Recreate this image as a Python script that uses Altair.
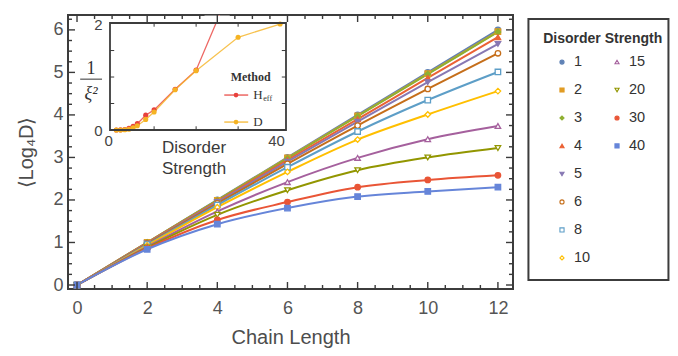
import altair as alt
import pandas as pd

# ---------------- data ----------------
chain_length = [0, 2, 4, 6, 8, 10, 12]
disorder_strengths = ["1", "2", "3", "4", "5", "6", "8", "10", "15", "20", "30", "40"]

d1 = [0, 1.00, 2.00, 3.00, 4.00, 5.00, 6.00]
d2 = [0, 1.00, 1.99, 2.99, 3.98, 4.97, 5.96]
d3 = [0, 1.00, 1.99, 2.98, 3.97, 4.96, 5.95]
d4 = [0, 0.99, 1.97, 2.94, 3.90, 4.87, 5.83]
d5 = [0, 0.98, 1.95, 2.90, 3.84, 4.77, 5.67]
d6 = [0, 0.97, 1.92, 2.85, 3.75, 4.61, 5.45]
d8 = [0, 0.95, 1.88, 2.77, 3.61, 4.35, 5.01]
d10 = [0, 0.93, 1.83, 2.66, 3.42, 4.01, 4.56]
d15 = [0, 0.90, 1.73, 2.42, 2.99, 3.43, 3.74]
d20 = [0, 0.88, 1.65, 2.23, 2.70, 3.00, 3.22]
d30 = [0, 0.86, 1.53, 1.95, 2.30, 2.47, 2.58]
d40 = [0, 0.84, 1.43, 1.81, 2.08, 2.20, 2.30]
series_values = [d1, d2, d3, d4, d5, d6, d8, d10, d15, d20, d30, d40]

series_colors = ["#5E81B5", "#E19C24", "#8FB032", "#EB6235", "#8778B3", "#C56E1A",
                 "#5D9EC7", "#FFBF00", "#A5609D", "#929600", "#E95536", "#6685D9"]
series_shapes = ["circle", "square", "diamond", "triangle-up", "triangle-down",
                 "circle", "square", "diamond", "triangle-up", "triangle-down",
                 "circle", "square"]
series_filled = [True, True, True, True, True, False, False, False, False, False, True, True]

inset_strength = [1, 2, 3, 4, 5, 6, 8, 10, 15, 20, 30, 40]
inset_heff = [0.0, 0.003, 0.01, 0.03, 0.07, 0.12, 0.28, 0.38, 0.77, 1.13, 3.0, 4.5]
inset_d = [0.0, 0.001, 0.005, 0.015, 0.04, 0.08, 0.20, 0.34, 0.76, 1.12, 1.75, 2.0]
inset_methods = ["Heff", "D"]
inset_colors = ["#E8413C", "#F5B323"]

x_major_ticks = [0, 2, 4, 6, 8, 10, 12]
y_major_ticks = [0, 1, 2, 3, 4, 5, 6]

# ---------------- layout constants ----------------
W, H = 445, 274
X_DOM = [-0.257, 12.43]
Y_DOM = [-0.094, 6.35]
ppx = W / (X_DOM[1] - X_DOM[0])
ppy = H / (Y_DOM[1] - Y_DOM[0])

IX_DOM = [-0.5, 41.4]
IY_DOM = [0, 2.02]
IX_RANGE = [42, 218]
IY_RANGE = [115, 8]

FONT = "Liberation Sans"
SERIF = "Liberation Serif"
FRAME = "#3c3c3c"
TICKC = "#3a3a3a"

# ---------------- main data frame ----------------
rows = []
for s, vals, col, shp, fl in zip(disorder_strengths, series_values, series_colors,
                                 series_shapes, series_filled):
    for L, v in zip(chain_length, vals):
        rows.append({"s": s, "L": L, "v": v, "shape": shp,
                     "fill": col if fl else "white"})
main_df = pd.DataFrame(rows)

# frame ticks (inward, Mathematica-like)
x_minor = [i * 0.5 for i in range(0, 25) if (i * 0.5) not in x_major_ticks]
y_minor = [i * 0.25 for i in range(0, 26) if (i * 0.25) not in y_major_ticks]
vt_rows, ht_rows = [], []
for xv in x_major_ticks + x_minor:
    ln = 7 if xv in x_major_ticks else 4
    vt_rows.append({"tx": xv, "ty": Y_DOM[0], "ty2": Y_DOM[0] + ln / ppy})
    vt_rows.append({"tx": xv, "ty": Y_DOM[1], "ty2": Y_DOM[1] - ln / ppy})
for yv in y_major_ticks + y_minor:
    ln = 7 if yv in y_major_ticks else 4
    ht_rows.append({"ty": yv, "tx": X_DOM[0], "tx2": X_DOM[0] + ln / ppx})
    ht_rows.append({"ty": yv, "tx": X_DOM[1], "tx2": X_DOM[1] - ln / ppx})
vt_df = pd.DataFrame(vt_rows)
ht_df = pd.DataFrame(ht_rows)

main_x_axis = alt.Axis(values=x_major_ticks, title="Chain Length", ticks=False, tickSize=0,
                       domain=False, grid=False, labelFontSize=18, titleFontSize=20,
                       labelPadding=10, titlePadding=10, labelColor="#555", titleColor="#4d4d4d",
                       titleFontWeight="normal", labelFont=FONT, titleFont=FONT, orient="bottom")
main_y_axis = alt.Axis(values=y_major_ticks, title="⟨Log₄D⟩", ticks=False, tickSize=0,
                       domain=False, grid=False, labelFontSize=18, titleFontSize=20,
                       labelPadding=5, titlePadding=16, labelColor="#555", titleColor="#4d4d4d",
                       titleFontWeight="normal", labelFont=FONT, titleFont=FONT, orient="left")
mx_scale = alt.Scale(domain=X_DOM, nice=False, zero=False)
my_scale = alt.Scale(domain=Y_DOM, nice=False, zero=False)
color_enc = alt.Color("s:N", scale=alt.Scale(domain=disorder_strengths, range=series_colors),
                      legend=None)


def mx(field):
    return alt.X(field, scale=mx_scale, axis=main_x_axis)


def my(field):
    return alt.Y(field, scale=my_scale, axis=main_y_axis)


lines = alt.Chart(main_df).mark_line(interpolate="monotone", strokeWidth=2).encode(
    x=mx("L:Q"), y=my("v:Q"), color=color_enc)
points = alt.Chart(main_df).mark_point(size=30, strokeWidth=1.3, opacity=1).encode(
    x=mx("L:Q"), y=my("v:Q"), color=color_enc,
    shape=alt.Shape("shape:N", scale=None),
    fill=alt.Fill("fill:N", scale=None),
)
vticks = alt.Chart(vt_df).mark_rule(color=TICKC, strokeWidth=1.4).encode(
    x=mx("tx:Q"), y=my("ty:Q"), y2="ty2:Q")
hticks = alt.Chart(ht_df).mark_rule(color=TICKC, strokeWidth=1.4).encode(
    y=my("ty:Q"), x=mx("tx:Q"), x2="tx2:Q")
main_layer = alt.layer(lines, points, vticks, hticks)

# ---------------- inset ----------------
inset_rows = []
for m, vals in zip(inset_methods, [inset_heff, inset_d]):
    for s, v in zip(inset_strength, vals):
        inset_rows.append({"m": m, "s": s, "v": v})
inset_df = pd.DataFrame(inset_rows)

ix_scale = alt.Scale(domain=IX_DOM, range=IX_RANGE, nice=False, zero=False)
iy_scale = alt.Scale(domain=IY_DOM, range=IY_RANGE, nice=False, zero=False)
inset_x_axis = alt.Axis(orient="bottom", offset=-(H - IY_RANGE[0]), values=[0, 40], title=None,
                        ticks=False, tickSize=0, domain=False, grid=False, labelFontSize=15,
                        labelPadding=3, labelColor="#444", labelFont=FONT, labelOffset=-4, zindex=1)
inset_y_axis = alt.Axis(orient="left", offset=-IX_RANGE[0], values=[0, 2], title=None,
                        ticks=False, tickSize=0, domain=False, grid=False, labelFontSize=15,
                        labelPadding=8, labelColor="#444", labelFont=FONT, zindex=1)
icolor = alt.Color("m:N", scale=alt.Scale(domain=inset_methods, range=inset_colors), legend=None)


def ix(field):
    return alt.X(field, scale=ix_scale, axis=inset_x_axis)


def iy(field):
    return alt.Y(field, scale=iy_scale, axis=inset_y_axis)


frame_df = pd.DataFrame({"x": [IX_DOM[0]], "x2": [IX_DOM[1]], "y": [IY_DOM[0]], "y2": [IY_DOM[1]]})
inset_bg = alt.Chart(frame_df).mark_rect(fill="white").encode(
    x=ix("x:Q"), x2="x2:Q", y=iy("y:Q"), y2="y2:Q")
inset_lines = alt.Chart(inset_df).mark_line(strokeWidth=1.3, clip=True, opacity=0.8).encode(
    x=ix("s:Q"), y=iy("v:Q"), color=icolor)
inset_pts = alt.Chart(inset_df).transform_filter(alt.datum.v <= 2.02).mark_point(
    filled=True, size=26, opacity=1).encode(x=ix("s:Q"), y=iy("v:Q"), color=icolor)
mask_df = pd.DataFrame({"x": [22], "x2": [28], "y": [2.03], "y2": [2.16]})
inset_mask = alt.Chart(mask_df).mark_rect(fill="white").encode(
    x=ix("x:Q"), x2="x2:Q", y=iy("y:Q"), y2="y2:Q")
inset_frame = alt.Chart(frame_df).mark_rect(fill="transparent", stroke=FRAME, strokeWidth=1.8).encode(
    x=ix("x:Q"), x2="x2:Q", y=iy("y:Q"), y2="y2:Q")

# inset frame ticks
ivt_df = pd.DataFrame({"tx": [10, 20, 30, 10, 20, 30], "ty": [0, 0, 0, 2.02, 2.02, 2.02],
                       "ty2": [0.07, 0.07, 0.07, 1.95, 1.95, 1.95]})
ivticks = alt.Chart(ivt_df).mark_rule(color=TICKC, strokeWidth=1).encode(
    x=ix("tx:Q"), y=iy("ty:Q"), y2="ty2:Q")
iht_df = pd.DataFrame({"ty": [0.5, 1.0, 1.5, 0.5, 1.0, 1.5],
                       "tx": [-0.5, -0.5, -0.5, 41.4, 41.4, 41.4],
                       "tx2": [0.5, 0.5, 0.5, 40.4, 40.4, 40.4]})
ihticks = alt.Chart(iht_df).mark_rule(color=TICKC, strokeWidth=1).encode(
    y=iy("ty:Q"), x=ix("tx:Q"), x2="tx2:Q")

# inset legend
leg_line_df = pd.DataFrame({"m": inset_methods, "x": [26.7, 26.7], "x2": [32.4, 32.4],
                            "y": [0.66, 0.15]})
leg_pt_df = pd.DataFrame({"m": inset_methods, "x": [29.5, 29.5], "y": [0.66, 0.15]})
inset_leg_lines = alt.Chart(leg_line_df).mark_rule(strokeWidth=1.2).encode(
    x=ix("x:Q"), x2="x2:Q", y=iy("y:Q"), color=icolor)
inset_leg_pts = alt.Chart(leg_pt_df).mark_point(filled=True, size=22, opacity=1).encode(
    x=ix("x:Q"), y=iy("y:Q"), color=icolor)
leg_text_df = pd.DataFrame({"t": ["Method", "H", "D"], "x": [33.0, 33.6, 33.6],
                            "y": [1.0, 0.66, 0.15]})
inset_leg_title = alt.Chart(leg_text_df.iloc[[0]]).mark_text(
    font=SERIF, fontSize=12, fontWeight="bold", color="#333", align="center", baseline="middle").encode(
    x=ix("x:Q"), y=iy("y:Q"), text="t:N")
inset_leg_labels = alt.Chart(leg_text_df.iloc[[1, 2]]).mark_text(
    font=SERIF, fontSize=13, color="#333", align="left", baseline="middle").encode(
    x=ix("x:Q"), y=iy("y:Q"), text="t:N")
sub_df = pd.DataFrame({"t": ["eff"], "x": [36.0], "y": [0.66]})
inset_leg_sub = alt.Chart(sub_df).mark_text(
    font=SERIF, fontSize=8, color="#333", align="left", baseline="middle", dy=4).encode(
    x=ix("x:Q"), y=iy("y:Q"), text="t:N")

# inset axis titles (as text)
ititle_df = pd.DataFrame({"t": ["Disorder", "Strength"], "x": [19.5, 19.5], "y": [-0.34, -0.74]})
inset_xtitle = alt.Chart(ititle_df).mark_text(
    font=FONT, fontSize=17, color="#3a3a3a", align="center", baseline="middle").encode(
    x=ix("x:Q"), y=iy("y:Q"), text="t:N")
frac_one_df = pd.DataFrame({"t": ["1"], "x": [-5.0], "y": [1.15]})
inset_frac_one = alt.Chart(frac_one_df).mark_text(
    font=SERIF, fontSize=18, color="#333", align="center", baseline="middle").encode(
    x=ix("x:Q"), y=iy("y:Q"), text="t:N")
frac_xi_df = pd.DataFrame({"t": ["ξ²"], "x": [-5.0], "y": [0.68]})
inset_frac_xi = alt.Chart(frac_xi_df).mark_text(
    font=SERIF, fontSize=18, color="#333", align="center", baseline="middle", fontStyle="italic").encode(
    x=ix("x:Q"), y=iy("y:Q"), text="t:N")
bar_df = pd.DataFrame({"x": [-7.6], "x2": [-2.4], "y": [0.96]})
inset_bar = alt.Chart(bar_df).mark_rule(color="#333", strokeWidth=1).encode(
    x=ix("x:Q"), x2="x2:Q", y=iy("y:Q"))

inset_layer = alt.layer(inset_bg, inset_lines, inset_pts, inset_mask, inset_frame,
                        ivticks, ihticks,
                        inset_leg_lines, inset_leg_pts, inset_leg_title, inset_leg_labels,
                        inset_leg_sub, inset_xtitle, inset_frac_one, inset_frac_xi, inset_bar)

plot = alt.layer(inset_layer, main_layer).resolve_scale(
    x="independent", y="independent", color="independent"
).properties(width=W, height=H, view=alt.ViewBackground(stroke=FRAME, strokeWidth=2))

# ---------------- legend panel ----------------
LW, LH = 141, 274
legend_cols = [0] * 8 + [1] * 4
legend_rows = list(range(8)) + list(range(4))
leg_df = pd.DataFrame({
    "s": disorder_strengths, "col": legend_cols, "row": legend_rows,
    "shape": series_shapes,
    "fill": [c if f else "white" for c, f in zip(series_colors, series_filled)],
})
lx_scale = alt.Scale(domain=[-0.618, 1.945], nice=False, zero=False)
ly_scale = alt.Scale(domain=[-1.68, 8.11], nice=False, zero=False, reverse=True)
lx = alt.X("col:Q", scale=lx_scale, axis=None)
ly = alt.Y("row:Q", scale=ly_scale, axis=None)

leg_pts = alt.Chart(leg_df).mark_point(size=17, strokeWidth=1.1, opacity=1).encode(
    x=lx, y=ly, color=color_enc,
    shape=alt.Shape("shape:N", scale=None), fill=alt.Fill("fill:N", scale=None))
leg_txt = alt.Chart(leg_df).mark_text(
    font=FONT, fontSize=14.5, color="#333", align="left", baseline="middle", dx=12).encode(
    x=lx, y=ly, text="s:N")
ltitle_df = pd.DataFrame({"t": ["Disorder Strength"], "col": [0.74], "row": [-0.82]})
leg_title = alt.Chart(ltitle_df).mark_text(
    font=FONT, fontSize=14, fontWeight="bold", color="#333", align="center", baseline="middle").encode(
    x=lx, y=ly, text="t:N")
lbox_df = pd.DataFrame({"col": [-0.61], "col2": [1.935], "row": [-1.54], "row2": [7.79]})
leg_box = alt.Chart(lbox_df).mark_rect(fill="transparent", stroke=FRAME, strokeWidth=2).encode(
    x=lx, x2="col2:Q", y=ly, y2="row2:Q")

legend_panel = alt.layer(leg_box, leg_title, leg_pts, leg_txt).properties(
    width=LW, height=LH, view=alt.ViewBackground(stroke="transparent", strokeWidth=0))

chart = alt.hconcat(plot, legend_panel, spacing=12).properties(
    padding={"left": 7, "top": 5, "right": 0, "bottom": 0},
    background="white",
)

chart.save("out.html", embed_options={"renderer": "svg", "actions": False})
